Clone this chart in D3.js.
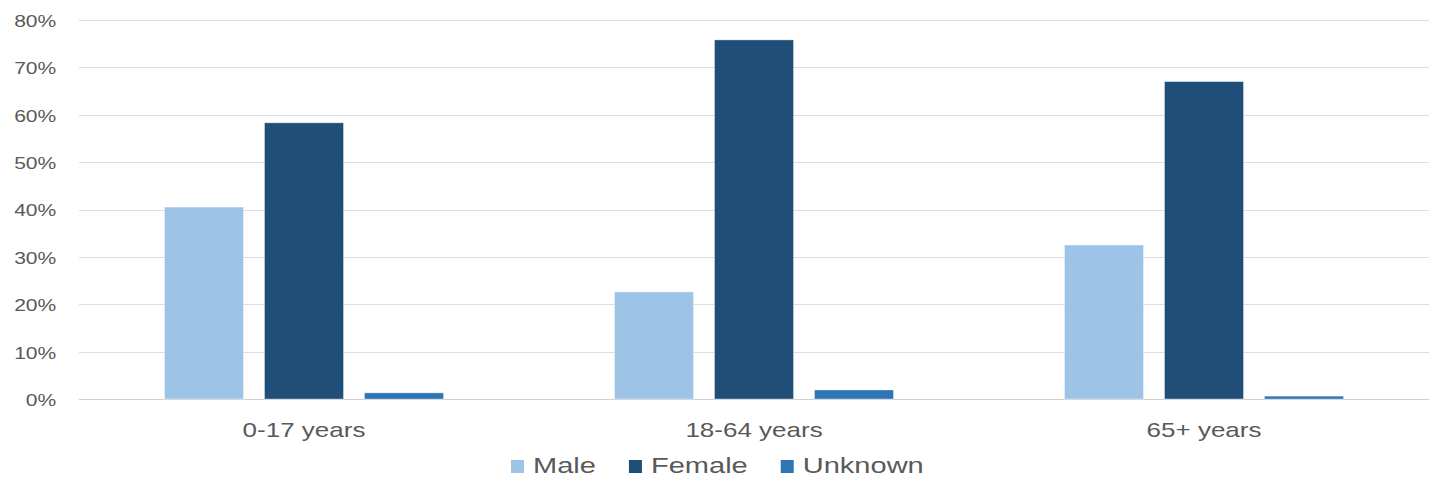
<!DOCTYPE html>
<html>
<head>
<meta charset="utf-8">
<script src="https://cdn.jsdelivr.net/npm/d3@7"></script>
<style>
  html, body { margin: 0; padding: 0; background: #ffffff; }
  svg { display: block; }
  text { font-family: "Liberation Sans", Arial, sans-serif; fill: #595959; }
</style>
</head>
<body>
<svg id="chart" width="1440" height="481"></svg>
<script>
// Age groups and share of cases by sex
const categories = ["0-17 years", "18-64 years", "65+ years"];
const seriesNames = ["Male", "Female", "Unknown"];
const maleValues = [40.5, 22.6, 32.5];
const femaleValues = [58.3, 75.8, 67.0];
const unknownValues = [1.3, 1.9, 0.6];
const yTicks = [0, 10, 20, 30, 40, 50, 60, 70, 80];

const seriesValues = { Male: maleValues, Female: femaleValues, Unknown: unknownValues };
const colors = { Male: "#9DC3E6", Female: "#1F4E79", Unknown: "#2E75B6" };

const svg = d3.select("#chart");
const plot = { left: 79, right: 1429, top: 20, bottom: 399 };

const y = d3.scaleLinear().domain([0, 80]).range([plot.bottom, plot.top]);
const x0 = d3.scaleBand().domain(categories).range([plot.left, plot.right]).padding(0);
const x1 = d3.scaleBand().domain(seriesNames).range([0, x0.bandwidth()])
  .paddingInner(0.21).paddingOuter(0.855);

// Horizontal gridlines
svg.append("g")
  .selectAll("line")
  .data(yTicks)
  .join("line")
  .attr("x1", plot.left)
  .attr("x2", plot.right)
  .attr("y1", d => Math.round(y(d)) + 0.5)
  .attr("y2", d => Math.round(y(d)) + 0.5)
  .attr("stroke", d => d === 0 ? "#D0D0D0" : "#DEDEDE")
  .attr("stroke-width", 1.2);

// Y axis labels
const yAxis = d3.axisLeft(y).tickValues(yTicks).tickFormat(d => d + "%").tickSize(0).tickPadding(3);
const yg = svg.append("g").attr("transform", "translate(60,0)").call(yAxis);
yg.select(".domain").remove();
yg.selectAll("text")
  .attr("dy", "0.38em")
  .style("font-size", "17px")
  .style("font-family", "'Liberation Sans', Arial, sans-serif")
  .attr("fill", "#595959")
  .attr("transform", "scale(1.24,1)");

// Bars
const groups = svg.append("g")
  .selectAll("g")
  .data(categories)
  .join("g")
  .attr("transform", d => `translate(${x0(d)},0)`);

groups.selectAll("rect")
  .data((c, i) => seriesNames.map(s => ({ series: s, value: seriesValues[s][i] })))
  .join("rect")
  .attr("x", d => x1(d.series))
  .attr("width", x1.bandwidth())
  .attr("y", d => y(d.value))
  .attr("height", d => y(0) - y(d.value))
  .attr("fill", d => colors[d.series])
  .attr("stroke", "#ffffff")
  .attr("stroke-opacity", 0.35)
  .attr("stroke-width", 1);

// Category labels
svg.append("g")
  .selectAll("text")
  .data(categories)
  .join("text")
  .attr("transform", d => `translate(${x0(d) + x0.bandwidth() / 2},437) scale(1.3,1)`)
  .attr("text-anchor", "middle")
  .style("font-size", "20px")
  .text(d => d);

// Legend
const legend = svg.append("g").attr("transform", "translate(511,0)");
let lx = 0;
seriesNames.forEach(s => {
  const item = legend.append("g").attr("transform", `translate(${lx},0)`);
  item.append("rect")
    .attr("x", 0).attr("y", 460)
    .attr("width", 13).attr("height", 13)
    .attr("fill", colors[s]);
  const t = item.append("text")
    .attr("transform", "translate(22,473) scale(1.32,1)")
    .style("font-size", "22px")
    .text(s);
  const w = t.node().getComputedTextLength() * 1.32;
  lx += 22 + w + 33;
});
</script>
</body>
</html>
